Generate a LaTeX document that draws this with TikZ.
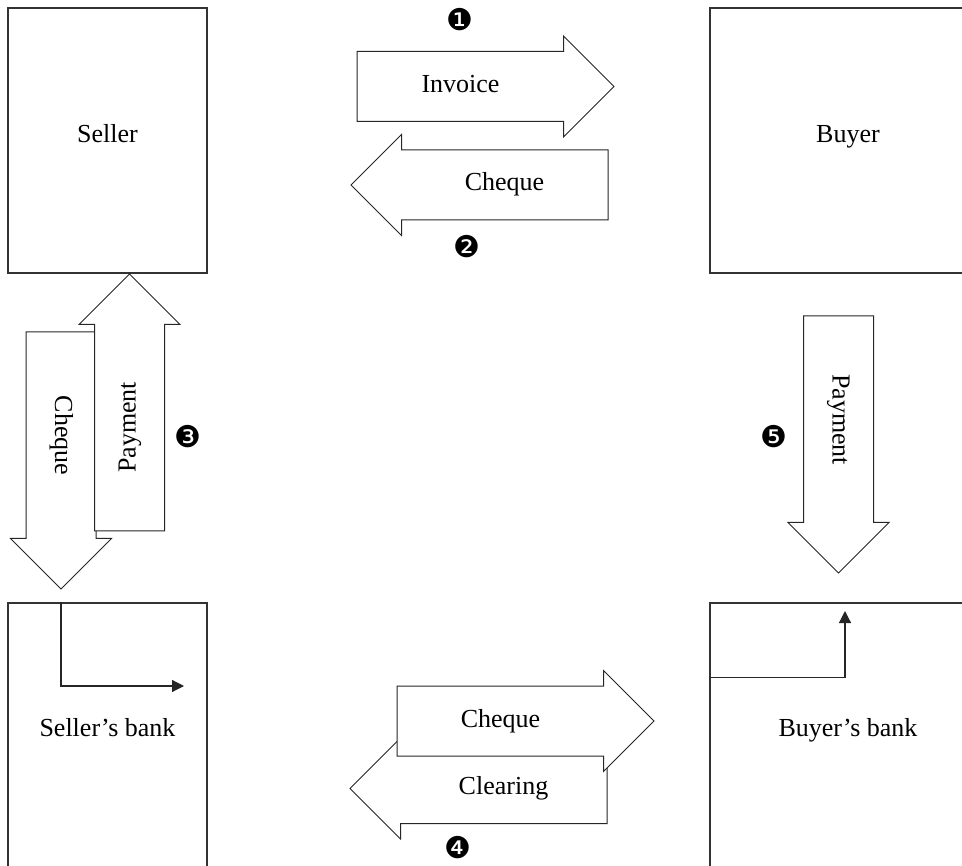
\documentclass[tikz,border=0pt]{standalone}
\usepackage{fontspec}
\setmainfont{Liberation Serif}
\newfontfamily\dingfont{DejaVu Sans}
\usetikzlibrary{shapes.arrows,arrows.meta}

% a little room on the head side, so the label sits in the shaft
\newcommand\headgap{\kern15pt}

\tikzset{
  party/.style={rectangle, draw=black!80, line width=1.2pt, minimum width=199pt, minimum height=265pt, text height=18pt, text depth=13pt, font=\fontsize{26}{30}\selectfont},
  flowarrow/.style={single arrow, draw=black!85, fill=white, line width=1pt, single arrow tip angle=90, single arrow head extend=15.5pt, minimum height=257pt, text height=18pt, text depth=6pt, inner ysep=22.5pt, inner xsep=2pt, font=\fontsize{26}{30}\selectfont},
  stepmark/.style={font=\dingfont\fontsize{30}{34}\selectfont, inner sep=0pt},
  route/.style={draw=black!85, line width=1.2pt, -{Triangle[length=12pt,width=12pt]}}
}

\begin{document}
\begin{tikzpicture}[x=1pt, y=-1pt]
    \useasboundingbox (0,0) rectangle (962,866);

    % Parties and banks
    \node[party] (seller) at (107.5,140.5) {Seller};
    \node[party, minimum width=276pt] (buyer) at (848,140.5) {Buyer};
    \node[party, text depth=16pt] (sbank) at (107.5,735.5) {Seller’s bank};
    \node[party, text depth=16pt, minimum width=276pt] (bbank) at (848,735.5) {Buyer’s bank};

    % Step 1 and 2
    \node[flowarrow] (inv) at (468,86.5) {Invoice\headgap};
    \node[flowarrow, shape border rotate=180] (chq2) at (497,185) {\headgap Cheque};

    % Step 3
    \node[flowarrow, rotate=-90] (chq3) at (61,443) {Cheque\headgap};
    \node[flowarrow, rotate=90] (pay3) at (129.5,420) {Payment\headgap};

    % Step 4
    \node[flowarrow, shape border rotate=180] (clr4) at (496,788.5) {\headgap Clearing};
    \node[flowarrow] (chq4) at (508,721) {Cheque\headgap};

    % Step 5
    \node[flowarrow, rotate=-90] (pay5) at (838.5,427) {Payment\headgap};

    % Inside the banks
    \coordinate (sin) at (184,686);
    \draw[route] (chq3.tip |- sbank.north) |- (sin);
    \coordinate (bin) at (845,611);
    \draw[route] ([yshift=-75pt]bbank.north west) -| (bin);

    % Step numbers
    \node[stepmark] (m1) at (460,20) {❶};
    \node[stepmark] (m2) at (467,247) {❷};
    \node[stepmark] (m3) at (188,437) {❸};
    \node[stepmark] (m4) at (458,848) {❹};
    \node[stepmark] (m5) at (774,437) {❺};
\end{tikzpicture}
\end{document}
